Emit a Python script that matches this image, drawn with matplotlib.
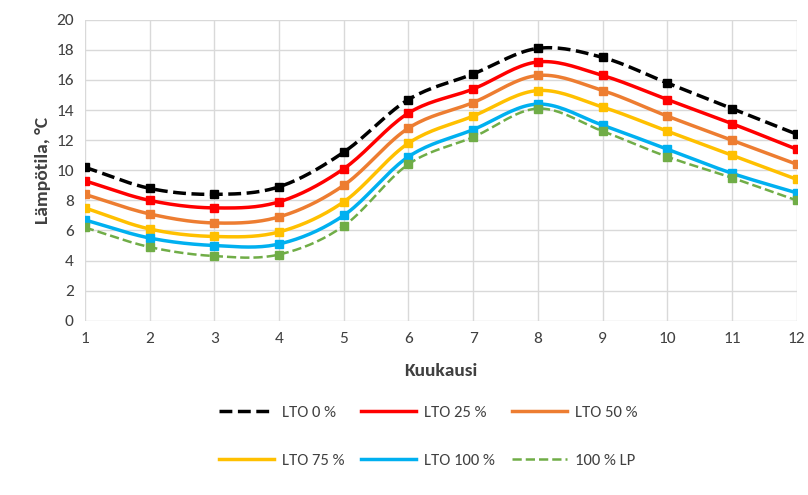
import numpy as np
import matplotlib

matplotlib.use("Agg")
import matplotlib.pyplot as plt

months = np.arange(1, 13)
lto_0 = [10.2, 8.8, 8.4, 8.9, 11.2, 14.7, 16.4, 18.1, 17.5, 15.8, 14.1, 12.4]
lto_25 = [9.3, 8.0, 7.5, 7.9, 10.1, 13.8, 15.4, 17.2, 16.3, 14.7, 13.1, 11.4]
lto_50 = [8.4, 7.1, 6.5, 6.9, 9.0, 12.8, 14.5, 16.3, 15.3, 13.6, 12.0, 10.4]
lto_75 = [7.5, 6.1, 5.6, 5.9, 7.9, 11.8, 13.6, 15.3, 14.2, 12.6, 11.0, 9.4]
lto_100 = [6.7, 5.5, 5.0, 5.1, 7.0, 10.9, 12.7, 14.4, 13.0, 11.4, 9.8, 8.5]
lp_100 = [6.2, 4.9, 4.3, 4.4, 6.3, 10.4, 12.2, 14.1, 12.6, 10.9, 9.5, 8.0]

series = [
    ("LTO 0 %", lto_0, "#000000", "--", 2.5),
    ("LTO 25 %", lto_25, "#ff0000", "-", 2.5),
    ("LTO 50 %", lto_50, "#ed7d31", "-", 2.5),
    ("LTO 75 %", lto_75, "#ffc000", "-", 2.5),
    ("LTO 100 %", lto_100, "#00b0f0", "-", 2.5),
    ("100 % LP", lp_100, "#70ad47", "--", 1.8),
]


def smooth(x, y, n=20):
    """Catmull-Rom curve through the points, like a spreadsheet's smoothed line."""
    x = np.asarray(x, float)
    y = np.asarray(y, float)
    px = np.concatenate([[2 * x[0] - x[1]], x, [2 * x[-1] - x[-2]]])
    py = np.concatenate([[2 * y[0] - y[1]], y, [2 * y[-1] - y[-2]]])
    t = np.linspace(0, 1, n)[:, None]
    out_x, out_y = [], []
    for i in range(1, len(px) - 2):
        for p, out in ((px, out_x), (py, out_y)):
            p0, p1, p2, p3 = p[i - 1], p[i], p[i + 1], p[i + 2]
            seg = 0.5 * (2 * p1 + (-p0 + p2) * t + (2 * p0 - 5 * p1 + 4 * p2 - p3) * t**2
                         + (-p0 + 3 * p1 - 3 * p2 + p3) * t**3)
            out.extend(seg.ravel())
    return np.array(out_x), np.array(out_y)


plt.rcParams["font.family"] = ["Carlito", "Lato", "DejaVu Sans"]
fig = plt.figure(figsize=(8.08, 4.95), dpi=100)
ax = fig.add_axes([0.105, 0.352, 0.881, 0.608])

handles = []
for label, values, color, style, width in series:
    sx, sy = smooth(months, values)
    (line,) = ax.plot(sx, sy, color=color, linestyle=style, linewidth=width,
                      label=label, zorder=3)
    handles.append(line)
    ax.plot(months, values, "s", color=color, markersize=6, zorder=4)

ax.set_xlim(1, 12)
ax.set_ylim(0, 20)
ax.set_xticks(months)
ax.set_yticks(range(0, 21, 2))
ax.grid(True, color="#d9d9d9", linewidth=1)
for side in ax.spines.values():
    side.set_visible(False)
ax.tick_params(length=0, labelsize=12.5, colors="#404040", pad=8)
ax.set_xlabel("Kuukausi", fontsize=14, fontweight="bold", color="#404040", labelpad=12)
ax.set_ylabel("Lämpötila, °C", fontsize=14, fontweight="bold", color="#404040")

# matplotlib fills legend columns first; reorder so the rows read 0/25/50 then 75/100/LP
order = [0, 3, 1, 4, 2, 5]
fig.legend([handles[i] for i in order], [series[i][0] for i in order],
           loc="lower center", bbox_to_anchor=(0.53, 0.025), ncol=3, frameon=False,
           fontsize=12, handlelength=3.3, columnspacing=1.0, labelspacing=2.0,
           handletextpad=0.5, labelcolor="#404040")
fig.savefig("out.png", dpi=100)
